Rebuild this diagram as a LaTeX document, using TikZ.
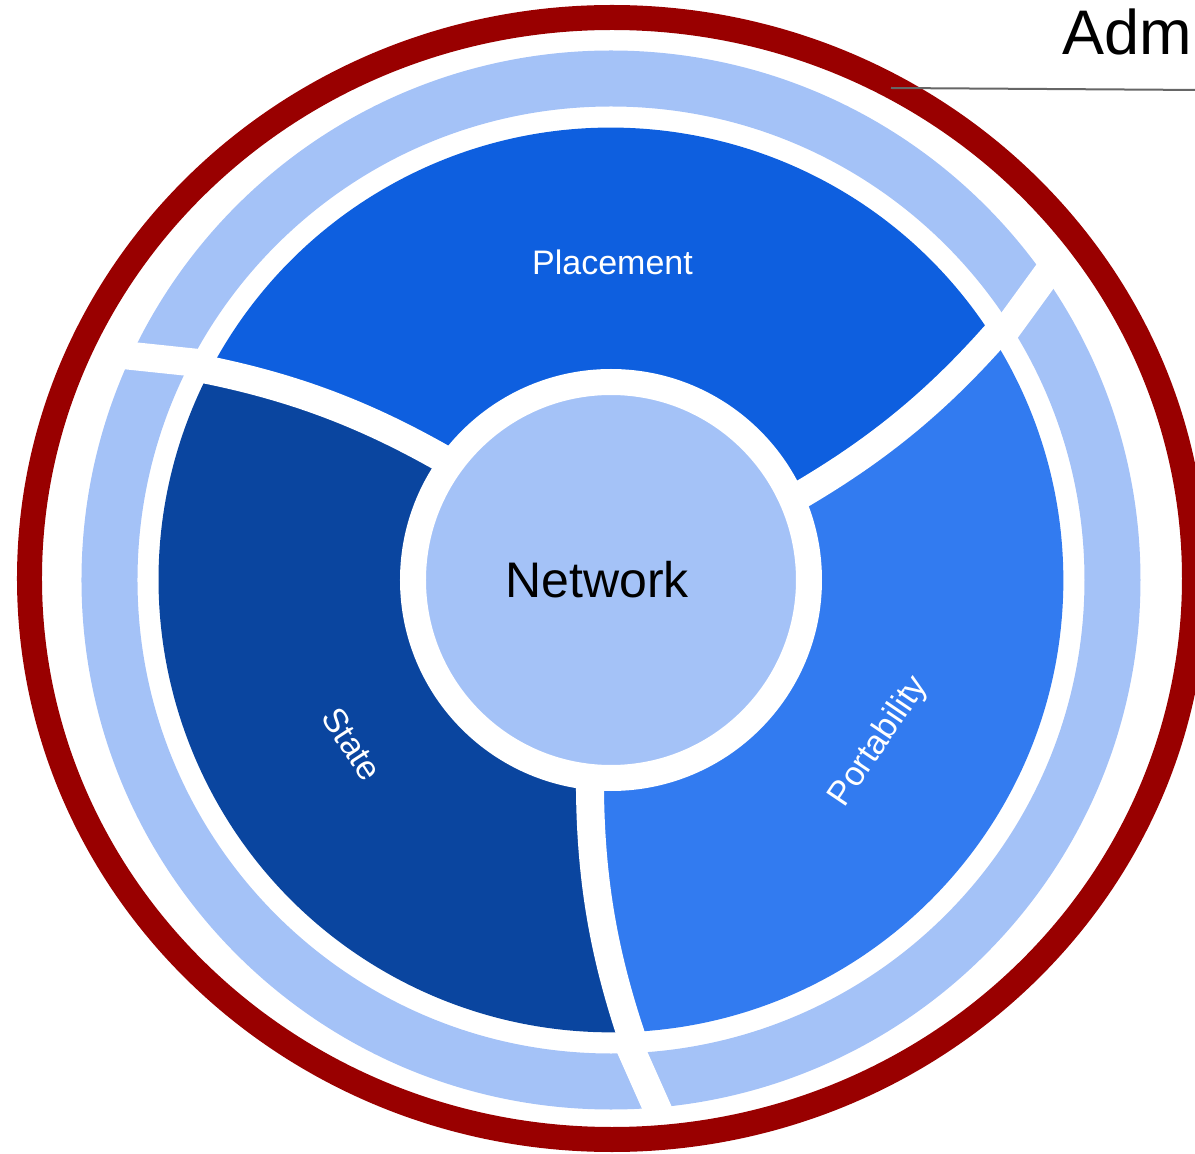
\documentclass[tikz,border=0pt]{standalone}
\usepackage{fontspec}
\setmainfont{Liberation Sans}
\definecolor{ringred}{HTML}{990000}
\definecolor{lightring}{HTML}{A4C2F7}
\definecolor{placecol}{HTML}{0E5FDF}
\definecolor{statecol}{HTML}{0A459F}
\definecolor{portcol}{HTML}{327BF0}
\definecolor{leadgray}{HTML}{666666}
% one sector (base orientation: between the bottom separator and the upper-right one)
\newcommand\sectorfill[1]{\fill[#1] (0,0) -- (-21,-211) .. controls (-20,-300) and (-7.4,-372) .. (19,-452)
   arc[start angle=-87.59, end angle=32.41, radius=452.4]
   .. controls (325.9,179.6) and (269.8,132.7) .. (193.2,87.3) -- cycle;}
\newcommand\sepline{\draw[sepstyle] (-21.5,-185) -- (-21,-211) .. controls (-20,-300) and (-7.4,-372) .. (19,-452) -- (27.8,-478.6);}
\newcommand\ringgap{\draw[gapstyle] (15.9,-460.3) -- (50.9,-539);}
\begin{document}
\begin{tikzpicture}[x=1pt,y=1pt,
  sepstyle/.style={white, line width=28},
  gapstyle/.style={white, line width=28},
  seclabel/.style={text=white, inner sep=0, font=\fontsize{34}{40}\selectfont}]
\clip (-611,-574) rectangle (584,580);
% sectors
\sectorfill{portcol}
\begin{scope}[rotate=120]\sectorfill{placecol}\end{scope}
\begin{scope}[rotate=240]\sectorfill{statecol}\end{scope}
% separators
\sepline
\begin{scope}[rotate=120]\sepline\end{scope}
\begin{scope}[rotate=240]\sepline\end{scope}
% light outer ring with gaps
\draw[lightring, line width=56] (0,0) circle (501.5);
\ringgap
\begin{scope}[rotate=120]\ringgap\end{scope}
\begin{scope}[rotate=240]\ringgap\end{scope}
% network disc
\node (netdisc) [circle, fill=lightring, draw=white, line width=26, minimum size=396, inner sep=0] at (0,0) {};
\node (nettext) at (-14,0) {\fontsize{50}{60}\selectfont Network};
% red ring
\draw[ringred, line width=25] (1,1.5) ellipse [x radius=582.5, y radius=561];
% labels
\node[seclabel, anchor=base] (place) at (1.5,305.7) {Placement};
\node[seclabel, rotate=-57] (state) at (-259,-164) {State};
\node[seclabel, rotate=56] (port) at (268,-162) {Portability};
% admin label and leader
\node[anchor=base west, inner sep=0] (adm) at (451,525) {\fontsize{63}{75}\selectfont Adm};
\coordinate (leadstart) at (280,492);
\coordinate (leadend) at (590,490);
\draw[leadgray, line width=2] (leadstart) -- (leadend);
\end{tikzpicture}
\end{document}
